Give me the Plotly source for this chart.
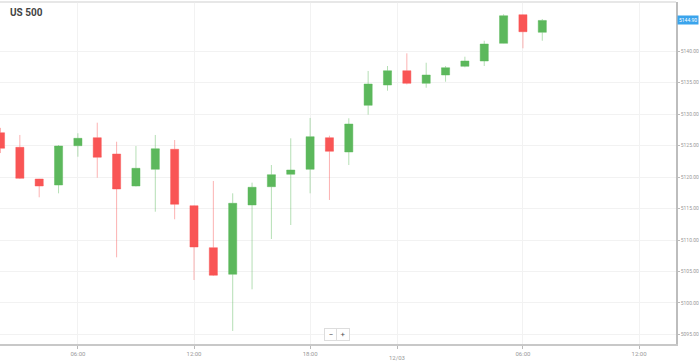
import plotly.graph_objects as go

# ---- data (hourly candles, index 0 = 02:00 on 12/02) ----
candle_idx = list(range(29))
opens  = [5127.03, 5124.71, 5119.68, 5118.73, 5124.97, 5126.24, 5123.65, 5118.57, 5121.22, 5124.40,
          5115.44, 5108.78, 5104.56, 5115.56, 5118.46, 5120.43, 5121.22, 5126.24, 5123.97, 5131.38,
          5134.60, 5136.87, 5134.87, 5136.19, 5137.57, 5138.41, 5141.22, 5145.76, 5142.97]
highs  = [5127.80, 5126.67, 5119.70, 5125.08, 5126.94, 5128.62, 5125.60, 5124.92, 5126.67, 5125.87,
          5115.50, 5119.37, 5117.41, 5119.10, 5121.90, 5126.14, 5129.37, 5126.56, 5129.32, 5136.83,
          5137.62, 5139.63, 5138.14, 5137.62, 5139.10, 5141.63, 5145.83, 5145.80, 5145.08]
lows   = [5123.80, 5119.70, 5116.78, 5117.41, 5123.22, 5119.89, 5107.25, 5118.50, 5114.49, 5113.29,
          5103.65, 5104.30, 5095.56, 5102.17, 5110.16, 5112.38, 5117.41, 5116.35, 5121.90, 5129.89,
          5133.70, 5134.70, 5134.17, 5135.13, 5137.41, 5137.62, 5141.20, 5140.43, 5141.63]
closes = [5124.56, 5119.79, 5118.57, 5124.92, 5126.14, 5123.13, 5118.10, 5121.38, 5124.49, 5115.67,
          5108.89, 5104.40, 5115.83, 5118.37, 5120.37, 5121.11, 5126.40, 5124.08, 5128.41, 5134.76,
          5136.87, 5134.87, 5136.19, 5137.35, 5138.41, 5141.11, 5145.60, 5143.06, 5144.85]

x_tick_vals = [4, 10, 16, 20.5, 27, 33]
x_tick_text = ["06:00", "12:00", "18:00", "", "06:00", "12:00"]
day_break = 20.5
day_label = "12/03"
y_tick_vals = [5095, 5100, 5105, 5110, 5115, 5120, 5125, 5130, 5135, 5140]
y_tick_text = ["%.2f" % v for v in y_tick_vals]
last_price = 5144.87
last_price_text = "5144.90"
title_text = "US 500"

GREEN = "#5cb85c"
RED = "#f95555"

fig = go.Figure()
fig.add_trace(go.Candlestick(
    x=candle_idx, open=opens, high=highs, low=lows, close=closes,
    increasing=dict(fillcolor=GREEN, line=dict(color="rgba(92,184,92,0.45)", width=1)),
    decreasing=dict(fillcolor=RED, line=dict(color="rgba(249,85,85,0.45)", width=1)),
    whiskerwidth=0, hoverinfo="skip", showlegend=False,
))

fig.add_vline(x=day_break, line=dict(color="#dcdcdc", width=1.5), layer="below")
fig.add_hline(y=last_price, line=dict(color="#8ccdf3", width=1.2))

# day label, set a little lower than the hour labels
fig.add_annotation(x=day_break, xref="x", yref="paper", y=0, yanchor="top", yshift=-8,
                   text=day_label, showarrow=False,
                   font=dict(size=6, color="#999", family="Roboto"))
fig.add_annotation(xref="paper", x=1.0, y=last_price, yref="y", text=last_price_text,
                   showarrow=False, xanchor="left", xshift=1,
                   font=dict(size=5, color="white", family="Roboto"),
                   bgcolor="#3aa4ec", borderpad=1)
fig.add_annotation(xref="paper", yref="paper", x=0.012, y=0.99, xanchor="left", yanchor="top",
                   text="<b>" + title_text + "</b>", showarrow=False,
                   font=dict(size=10, color="#444", family="Roboto"))
# zoom control
fig.add_annotation(xref="paper", yref="paper", x=0.489, y=0.028, yanchor="middle", text="\u2212",
                   showarrow=False, font=dict(size=8, color="#555"), bgcolor="white",
                   bordercolor="#ddd", borderwidth=1, borderpad=1, width=10, height=9)
fig.add_annotation(xref="paper", yref="paper", x=0.508, y=0.028, yanchor="middle", text="+",
                   showarrow=False, font=dict(size=8, color="#555"), bgcolor="white",
                   bordercolor="#ddd", borderwidth=1, borderpad=1, width=10, height=9)

fig.update_layout(
    width=699, height=361,
    margin=dict(l=0, r=23, t=2, b=17, autoexpand=False),
    paper_bgcolor="white", plot_bgcolor="white",
    boxgap=0.4,
    font=dict(family="Roboto", color="#888"),
    xaxis=dict(range=[-0.026, 34.91], rangeslider=dict(visible=False),
               tickvals=x_tick_vals, ticktext=x_tick_text, tickfont=dict(size=6, color="#999"),
               showgrid=True, gridcolor="#f2f2f2", gridwidth=1,
               showline=True, linecolor="#c8c8c8", linewidth=1.5,
               ticks="outside", ticklen=3, tickcolor="#bbb", zeroline=False, mirror=False),
    yaxis=dict(range=[5093.49, 5147.78], side="right",
               tickvals=y_tick_vals, ticktext=y_tick_text, tickfont=dict(size=5, color="#999"),
               showgrid=True, gridcolor="#f2f2f2", gridwidth=1,
               showline=True, linecolor="#bdbdbd", linewidth=1.5,
               ticks="outside", ticklen=2, tickcolor="#bbb", zeroline=False),
    shapes=[dict(type="line", xref="paper", yref="paper", x0=0, x1=1, y0=1, y1=1,
                 line=dict(color="#e6e6e6", width=1.5))],
)

fig.write_html("out.html", config={"displayModeBar": False})

# remove the default page margin so the figure sits at the window's top-left corner
with open("out.html", "r", encoding="utf-8") as f:
    html = f.read()
html = html.replace("<head>", "<head><style>html,body{margin:0;padding:0;overflow:hidden;}</style>", 1)
with open("out.html", "w", encoding="utf-8") as f:
    f.write(html)
